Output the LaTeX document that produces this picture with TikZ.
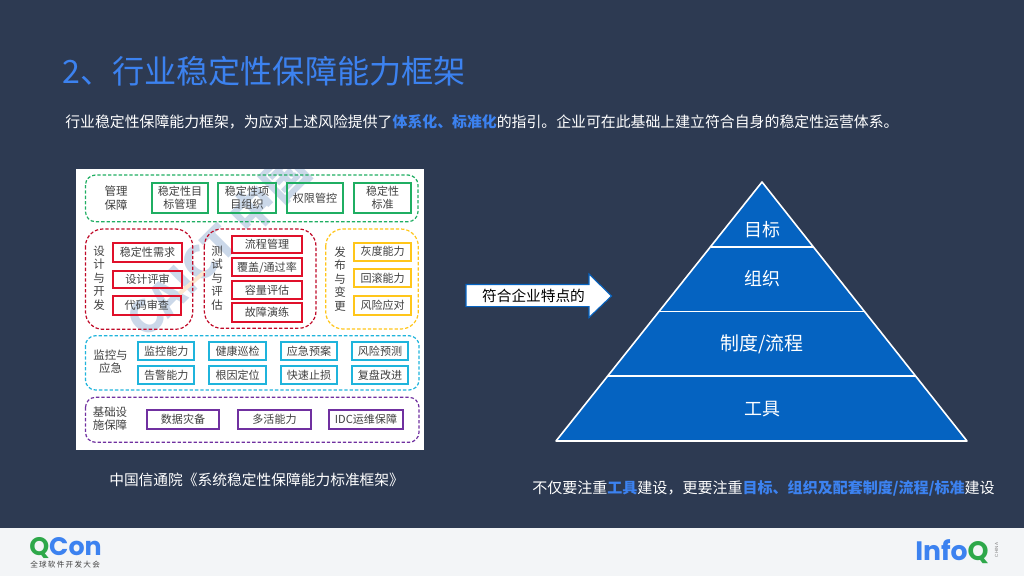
\documentclass[tikz,border=0pt]{standalone}
\usepackage{fontspec}
\setmainfont{Noto Sans CJK SC}
\newfontfamily\logofont{Poppins}
\newfontfamily\latinfont{Liberation Sans}
\definecolor{bgc}{HTML}{2D3A52}
\definecolor{footc}{HTML}{F3F5F7}
\definecolor{ttl}{HTML}{3C82F0}
\definecolor{pyr}{HTML}{0563C1}
\definecolor{grn}{HTML}{1FAE62}
\definecolor{redd}{HTML}{C00A28}
\definecolor{redb}{HTML}{E0102A}
\definecolor{yel}{HTML}{FFC61A}
\definecolor{cya}{HTML}{1FB4DC}
\definecolor{pur}{HTML}{7030A0}
\definecolor{txt}{HTML}{404040}
\definecolor{wm}{HTML}{CBD8E9}
\definecolor{wmo}{HTML}{FBE6CF}
\definecolor{logog}{HTML}{2EA84A}
\tikzset{
 x=0.75pt,y=-0.75pt,
 group/.style={draw,line width=0.9pt,rounded corners=7.5pt,dash pattern=on 2.5pt off 1.5pt},
 tall/.style={rounded corners=13pt},
 lab/.style={text=txt,font=\fontsize{8.3pt}{10pt}\selectfont,align=center,inner sep=0pt},
 vlab/.style={text=txt,font=\fontsize{8.6pt}{10.2pt}\selectfont,align=center,inner sep=0pt},
 caption/.style={text=white,font=\fontsize{11.16pt}{13pt}\selectfont,inner sep=0pt,anchor=west},
 pyrlab/.style={text=white,font=\fontsize{13.5pt}{15pt}\selectfont,inner sep=0pt},
 pyrline/.style={draw=white,line width=1.2pt},
}
\newcommand{\bx}[7]{\path[draw=#6,line width=1.3pt] (#2,#3) rectangle (#4,#5);
 \node[lab] (#1) at ({(#2+#4)/2},{(#3+#5)/2}) {#7};}
\newcommand{\hl}[1]{\textcolor{ttl}{\bfseries #1}}
\begin{document}
\begin{tikzpicture}
\useasboundingbox (0,0) rectangle (1024,576);
\fill[bgc] (0,0) rectangle (1024,576);
\fill[footc] (0,528) rectangle (1024,576);
\node[text=ttl,font=\fontsize{24.1pt}{28pt}\selectfont,anchor=west,inner sep=0pt] (title) at (62,71) {2、行业稳定性保障能力框架};
\node[caption] (sub) at (65,122) {行业稳定性保障能力框架，为应对上述风险提供了\hl{体系化、标准化}的指引。企业可在此基础上建立符合自身的稳定性运营体系。};
\fill[white] (76,169) rectangle (424,450);
\begin{scope}
\clip (76,169) rectangle (424,450);
\node[text=wm,font=\bfseries\fontsize{34pt}{34pt}\selectfont,rotate=45,inner sep=0pt] (wmark) at (218,245) {CAICT 中国};
\fill[wmo] (178,292) -- (204,270) -- (206,273) -- (181,295) -- cycle;
\end{scope}
\draw[group,grn] (85.5,175) rectangle (418,221.7);
\draw[group,tall,redd] (85.5,229) rectangle (192.7,329.3);
\draw[group,tall,redd] (204.3,229) rectangle (316,328.3);
\draw[group,tall,yel] (325.7,229) rectangle (418.3,329);
\draw[group,cya] (85.5,335.7) rectangle (419,390);
\draw[group,pur] (85.5,397.3) rectangle (419,442.3);
\node[vlab] (g1) at (116,198) {管理\\保障};
\bx{a1}{151.7}{183}{208.3}{213}{grn}{稳定性目\\标管理}
\bx{a2}{218.3}{183}{275.7}{213}{grn}{稳定性项\\目组织}
\bx{a3}{286.7}{183}{343.3}{213}{grn}{权限管控}
\bx{a4}{354.3}{183}{411}{213}{grn}{稳定性\\标准}
\node[vlab] (g2) at (99,278) {设\\计\\与\\开\\发};
\bx{b1}{113.3}{243.3}{181.7}{261.7}{redb}{稳定性需求}
\bx{b2}{113.3}{270.7}{181.7}{288}{redb}{设计评审}
\bx{b3}{112.7}{296}{181}{315}{redb}{代码审查}
\node[vlab] (g3) at (217,278) {测\\试\\与\\评\\估};
\bx{c1}{232.3}{235.7}{301.7}{253.3}{redb}{流程管理}
\bx{c2}{232.3}{258.3}{301.7}{276.3}{redb}{覆盖/通过率}
\bx{c3}{232.3}{280.7}{301.7}{299}{redb}{容量评估}
\bx{c4}{232.3}{303.3}{301.7}{321.7}{redb}{故障演练}
\node[vlab] (g4) at (340,279) {发\\布\\与\\变\\更};
\bx{d1}{354.3}{242.7}{411}{260.7}{yel}{灰度能力}
\bx{d2}{354.3}{269.3}{411}{287.3}{yel}{回滚能力}
\bx{d3}{354.3}{296}{411}{314.7}{yel}{风险应对}
\node[vlab] (g5) at (110.5,361.5) {监控与\\应急};
\bx{e1}{138.3}{341.7}{194.3}{360.3}{cya}{监控能力}
\bx{e2}{209.3}{341.7}{266}{360.3}{cya}{健康巡检}
\bx{e3}{280.7}{341.7}{337.3}{360.3}{cya}{应急预案}
\bx{e4}{351.7}{341.7}{408.3}{360.3}{cya}{风险预测}
\bx{f1}{138.3}{365.7}{194.3}{384}{cya}{告警能力}
\bx{f2}{209.3}{365.7}{266}{384}{cya}{根因定位}
\bx{f3}{280.7}{365.7}{337.3}{384}{cya}{快速止损}
\bx{f4}{351.7}{365.7}{408.3}{384}{cya}{复盘改进}
\node[vlab] (g6) at (110,418.5) {基础设\\施保障};
\bx{h1}{146.7}{409.7}{219.3}{428.7}{pur}{数据灾备}
\bx{h2}{238.3}{409.7}{310.7}{428.7}{pur}{多活能力}
\bx{h3}{329.3}{409.7}{402.7}{428.7}{pur}{IDC运维保障}
\node[caption,font=\fontsize{11.05pt}{13pt}\selectfont] (capl) at (109,480) {中国信通院《系统稳定性保障能力标准框架》};
\draw[fill=white,draw=pyr,line width=0.8pt] (466,284.5) -- (589,284.5) -- (589,274) -- (611.5,296) -- (589,317.5) -- (589,306.7) -- (466,306.7) -- cycle;
\node[text=black,font=\fontsize{11pt}{13pt}\selectfont,inner sep=0pt] (arrowlab) at (533.5,296) {符合企业特点的};
\coordinate (apex) at (762,182);
\coordinate (bl) at (556,441);
\coordinate (br) at (967,441);
\draw[fill=pyr,draw=white,line width=1.2pt,line join=round] (apex) -- (bl) -- (br) -- cycle;
\draw[pyrline] (711,246.7) -- (813,246.7);
\draw[pyrline] (659.5,311.3) -- (864.5,311.3);
\draw[pyrline] (608,376) -- (916,376);
\node[pyrlab] (p1) at (762,230) {目标};
\node[pyrlab] (p2) at (762,279) {组织};
\node[pyrlab,font=\fontsize{14.2pt}{15pt}\selectfont] (p3) at (762,344) {制度/流程};
\node[pyrlab] (p4) at (762,409) {工具};
\node[caption,font=\fontsize{11.27pt}{13pt}\selectfont] (capr) at (532,488) {不仅要注重\hl{工具}建设，更要注重\hl{目标、组织及配套制度/流程/标准}建设};
\node[font=\logofont\bfseries\fontsize{19pt}{21pt}\selectfont,inner sep=0pt,anchor=west] (qcon) at (29,547.5) {\textcolor{logog}{Q}\textcolor{ttl}{Con}};
\node[text=txt,font=\fontsize{5.7pt}{6pt}\selectfont,inner sep=0pt,anchor=west] (qsub) at (30,564.5) {全\,球\,软\,件\,开\,发\,大\,会};
\node[font=\logofont\bfseries\fontsize{20pt}{21pt}\selectfont,inner sep=0pt,anchor=west] (infoq) at (915,552) {\textcolor{ttl}{Info}\textcolor{logog}{Q}};
\node[text=gray,font=\latinfont\fontsize{3.4pt}{4pt}\selectfont,rotate=90,inner sep=0pt] (china) at (996.5,550) {CHINA};
\end{tikzpicture}
\end{document}
